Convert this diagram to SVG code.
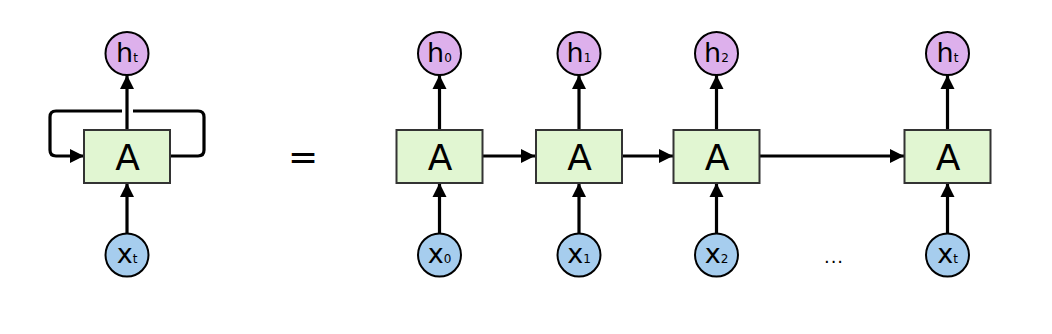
<svg xmlns="http://www.w3.org/2000/svg" width="1052" height="334" viewBox="0 0 1052 334">
<defs>
<marker id="ah" markerUnits="userSpaceOnUse" markerWidth="15" markerHeight="15" refX="14" refY="7" orient="auto" viewBox="0 0 15 14">
<path d="M0,0 L14,7 L0,14 z" fill="#000"/>
</marker>
</defs>
<style>
.box{fill:#e1f6d2;stroke:#333;stroke-width:2}
.h{fill:#ddb0ec;stroke:#000;stroke-width:2}
.x{fill:#a6cdee;stroke:#000;stroke-width:2}
.lbl{font-family:"DejaVu Sans",sans-serif;fill:#000;text-anchor:middle}
.big{font-size:36px}
.cl{font-size:27px}
.sub{font-size:12px}
.c{fill:none;stroke:#000;stroke-width:3.2;marker-end:url(#ah)}
</style>
<rect width="1052" height="334" fill="#fff"/>
<g id="connectors">
<path class="c" d="M170,156 H198 Q204,156 204,150 V117 Q204,111 198,111 H133 M122,111 H56 Q50,111 50,117 V150 Q50,156 56,156 H84"/>
<path class="c" d="M127,233 V183"/>
<path class="c" d="M127,130 V75"/>
<path class="c" d="M439.5,233 V183"/>
<path class="c" d="M439.5,130 V75"/>
<path class="c" d="M579,233 V183"/>
<path class="c" d="M579,130 V75"/>
<path class="c" d="M716.5,233 V183"/>
<path class="c" d="M716.5,130 V75"/>
<path class="c" d="M947.5,233 V183"/>
<path class="c" d="M947.5,130 V75"/>
<path class="c" d="M483,156 H535"/>
<path class="c" d="M622,156 H673"/>
<path class="c" d="M760,156 H904"/>
</g>
<g id="loop-cell">
<rect class="box" x="84" y="130" width="86" height="53"/>
<text class="lbl big" x="127.5" y="169.5">A</text>
</g>
<g id="ht-left">
<circle class="h" cx="127" cy="53.5" r="21.5"/>
<text class="lbl cl" x="127" y="62">h<tspan class="sub">t</tspan></text>
</g>
<g id="xt-left">
<circle class="x" cx="127" cy="255" r="21.5"/>
<text class="lbl cl" x="127" y="263">x<tspan class="sub">t</tspan></text>
</g>
<g id="equals">
<text class="lbl" x="303" y="169" font-size="36">=</text>
</g>
<g id="cell0">
<rect class="box" x="396.5" y="130" width="86" height="53"/>
<text class="lbl big" x="440" y="169.5">A</text>
</g>
<g id="h0">
<circle class="h" cx="439.5" cy="53.5" r="21.5"/>
<text class="lbl cl" x="439.5" y="62">h<tspan class="sub">0</tspan></text>
</g>
<g id="x0">
<circle class="x" cx="439.5" cy="255" r="21.5"/>
<text class="lbl cl" x="439.5" y="263">x<tspan class="sub">0</tspan></text>
</g>
<g id="cell1">
<rect class="box" x="536" y="130" width="86" height="53"/>
<text class="lbl big" x="579.5" y="169.5">A</text>
</g>
<g id="h1">
<circle class="h" cx="579" cy="53.5" r="21.5"/>
<text class="lbl cl" x="579" y="62">h<tspan class="sub">1</tspan></text>
</g>
<g id="x1">
<circle class="x" cx="579" cy="255" r="21.5"/>
<text class="lbl cl" x="579" y="263">x<tspan class="sub">1</tspan></text>
</g>
<g id="cell2">
<rect class="box" x="673.5" y="130" width="86" height="53"/>
<text class="lbl big" x="717" y="169.5">A</text>
</g>
<g id="h2">
<circle class="h" cx="716.5" cy="53.5" r="21.5"/>
<text class="lbl cl" x="716.5" y="62">h<tspan class="sub">2</tspan></text>
</g>
<g id="x2">
<circle class="x" cx="716.5" cy="255" r="21.5"/>
<text class="lbl cl" x="716.5" y="263">x<tspan class="sub">2</tspan></text>
</g>
<g id="dots">
<text class="lbl" x="834" y="263" font-size="18" letter-spacing="1">...</text>
</g>
<g id="cellt">
<rect class="box" x="904.5" y="130" width="86" height="53"/>
<text class="lbl big" x="948" y="169.5">A</text>
</g>
<g id="ht">
<circle class="h" cx="947.5" cy="53.5" r="21.5"/>
<text class="lbl cl" x="947.5" y="62">h<tspan class="sub">t</tspan></text>
</g>
<g id="xt">
<circle class="x" cx="947.5" cy="255" r="21.5"/>
<text class="lbl cl" x="947.5" y="263">x<tspan class="sub">t</tspan></text>
</g>
</svg>
